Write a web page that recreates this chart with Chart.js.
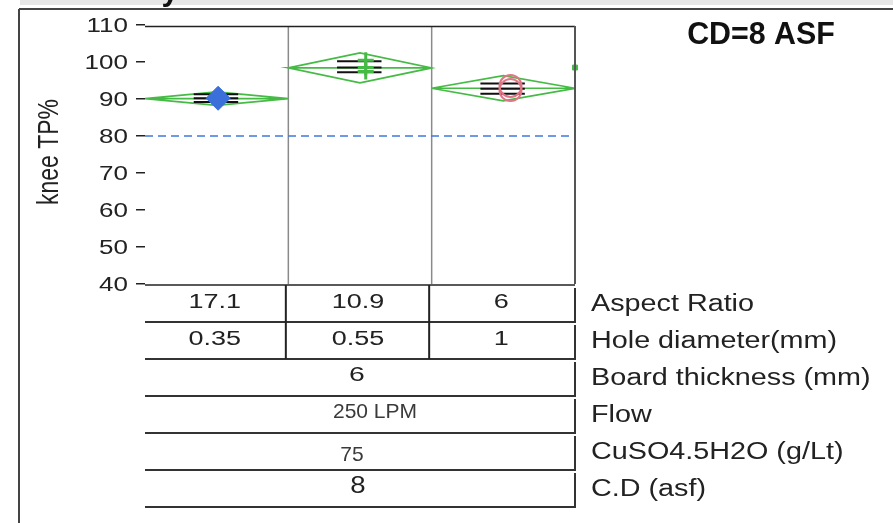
<!DOCTYPE html>
<html><head><meta charset="utf-8">
<script src="https://cdn.jsdelivr.net/npm/chart.js@4.4.0/dist/chart.umd.min.js"></script>
<style>html,body{margin:0;padding:0;background:#fff;overflow:hidden}#wrap{width:893px;height:523px;position:relative}</style>
</head><body><div id="wrap"><canvas id="c" width="893" height="523"></canvas></div>
<script>
// ---- data ----
const aspectRatio = ['17.1', '10.9', '6'];
const holeDiameter = ['0.35', '0.55', '1'];
const boardThickness = '6';
const flowRate = '250 LPM';
const cuso4 = '75';
const currentDensity = '8';
const rowLabels = ['Aspect Ratio', 'Hole diameter(mm)', 'Board thickness (mm)', 'Flow', 'CuSO4.5H2O (g/Lt)', 'C.D (asf)'];
const yTicks = [40, 50, 60, 70, 80, 90, 100, 110];
const meanTP = [90.1, 98.4, 92.9];
const diamondHalf = [1.8, 4.05, 3.4];
const pointsG1 = [90.2];
const pointsG2 = [100.5, 98.5, 97.4];
const pointsG3 = [93.5, 92.4];
const barLevels = [[91.3, 90.2, 89.2], [100.2, 98.5, 97.2], [94.2, 92.8, 91.4]];
const specLimit = 80;
const edgeMark = 98.5;
const chartTitle = 'CD=8 ASF';
const yTitle = 'knee TP%';

// ---- styles ----
const GREEN = '#45bb45';
const FONT = '"Liberation Sans", Arial, sans-serif';

const datasets = [];
// markers (drawn on top)
datasets.push({ data: pointsG1.map(v => ({ x: 0.51, y: v })), pointStyle: 'rectRot', pointRadius: 12,
  backgroundColor: '#3b6fd9', borderColor: '#3b6fd9', borderWidth: 1, order: 0 });
datasets.push({ data: pointsG2.map(v => ({ x: 1.54, y: v })), pointStyle: 'cross', pointRadius: 8,
  borderColor: GREEN, borderWidth: 3, order: 0 });
datasets.push({ data: pointsG3.map(v => ({ x: 2.55, y: v })), pointStyle: 'circle', pointRadius: 11,
  backgroundColor: 'rgba(0,0,0,0)', borderColor: '#e07585', borderWidth: 2, order: 0 });
datasets.push({ data: [{ x: 3, y: edgeMark }], pointStyle: 'rect', pointRadius: 3.5,
  backgroundColor: GREEN, borderColor: GREEN, borderWidth: 1, clip: false, order: 0 });
// black level lines
barLevels.forEach((lv, i) => lv.forEach(v => {
  datasets.push({ data: [{ x: i + 0.34, y: v }, { x: i + 0.65, y: v }], showLine: true,
    borderColor: '#111', borderWidth: 2, pointRadius: 0, order: 1 });
}));
// mean diamonds
meanTP.forEach((m, i) => {
  const h = diamondHalf[i];
  datasets.push({ data: [{ x: i, y: m }, { x: i + 0.5, y: m + h }, { x: i + 1, y: m }, { x: i + 0.5, y: m - h }, { x: i, y: m }, { x: i + 1, y: m }],
    showLine: true, borderColor: GREEN, borderWidth: 1.7, pointRadius: 0, tension: 0, order: 2 });
});
// spec line
datasets.push({ data: [{ x: 0, y: specLimit }, { x: 3, y: specLimit }], showLine: true,
  borderColor: '#3f78e0', borderWidth: 1.6, borderDash: [8, 5], pointRadius: 0, order: 3 });

function txt(ctx, s, x, y, font, color, align, sx, rot) {
  ctx.save();
  ctx.font = font; ctx.fillStyle = color; ctx.textBaseline = 'middle'; ctx.textAlign = align;
  ctx.translate(x, y);
  if (rot) { ctx.rotate(rot); ctx.scale(1, sx); } else { ctx.scale(sx, 1); }
  ctx.fillText(s, 0, 0);
  ctx.restore();
}
function line(ctx, x1, y1, x2, y2, color, w, dash) {
  ctx.save(); ctx.strokeStyle = color; ctx.lineWidth = w; if (dash) ctx.setLineDash(dash);
  ctx.beginPath(); ctx.moveTo(x1, y1); ctx.lineTo(x2, y2); ctx.stroke(); ctx.restore();
}

const decor = {
  id: 'decor',
  beforeDraw(chart) {
    const ctx = chart.ctx;
    ctx.save(); ctx.fillStyle = '#fff'; ctx.fillRect(0, 0, chart.width, chart.height); ctx.restore();
  },
  beforeDatasetsDraw(chart) {
    const ctx = chart.ctx, a = chart.chartArea, xs = chart.scales.x;
    [1, 2].forEach(k => line(ctx, xs.getPixelForValue(k), a.top + 1, xs.getPixelForValue(k), a.bottom, '#8a8a8a', 1.5));
  },
  afterDraw(chart) {
    const ctx = chart.ctx, a = chart.chartArea, xs = chart.scales.x, ys = chart.scales.y;
    // outer frame
    ctx.save(); ctx.fillStyle = '#e6e6e6'; ctx.fillRect(20, 0, chart.width - 20, 5); ctx.restore();
    line(ctx, 19, 9, chart.width, 9, '#444', 2);
    line(ctx, 19, 9, 19, chart.height, '#444', 2);
    txt(ctx, 'y', 170, -9, 'bold 31px ' + FONT, '#111', 'center', 1);
    // plot border
    line(ctx, a.left, a.top + 1.5, a.right, a.top + 1.5, '#222', 1.5);
    line(ctx, a.right, a.top + 1, a.right, a.bottom, '#555', 2);
    line(ctx, a.left, a.bottom + 1, a.right, a.bottom + 1, '#222', 1.5);
    // y tick labels
    yTicks.forEach(v => txt(ctx, String(v), 128, ys.getPixelForValue(v) + 1, '20px ' + FONT, '#222', 'right', 1.3));
    // y title
    txt(ctx, yTitle, 50, 152, '23px ' + FONT, '#222', 'center', 1.3, -Math.PI / 2);
    // chart title
    txt(ctx, chartTitle, 761, 35, 'bold 31px ' + FONT, '#111', 'center', 0.98);
    // table
    const rowH = 37, top0 = a.bottom + 1;
    const gc = [0.5, 1.5, 2.5].map(v => xs.getPixelForValue(v));
    const mid = xs.getPixelForValue(1.5);
    for (let k = 0; k < 6; k++) {
      const t = top0 + k * rowH, b = t + rowH;
      line(ctx, a.left, b, a.right, b, '#333', 2);
      line(ctx, a.right, t + 3, a.right, b + 1, '#333', 2);
      if (k < 2) {
        [1, 2].forEach(c => line(ctx, xs.getPixelForValue(c) - 2.5, t, xs.getPixelForValue(c) - 2.5, b, '#222', 2));
      }
      txt(ctx, rowLabels[k], 591, t + 19.5, '23px ' + FONT, '#222', 'left', 1.25);
    }
    const f20 = '20px ' + FONT;
    aspectRatio.forEach((s, i) => txt(ctx, s, gc[i] - 2, top0 + 17, f20, '#222', 'center', 1.35));
    holeDiameter.forEach((s, i) => txt(ctx, s, gc[i] - 2, top0 + rowH + 17, f20, '#222', 'center', 1.35));
    txt(ctx, boardThickness, mid - 3, top0 + 2 * rowH + 16, '21px ' + FONT, '#222', 'center', 1.35);
    txt(ctx, flowRate, mid + 15, top0 + 3 * rowH + 16, '21px ' + FONT, '#3a3a3a', 'center', 1);
    txt(ctx, cuso4, mid - 8, top0 + 4 * rowH + 22, '21px ' + FONT, '#3a3a3a', 'center', 1);
    txt(ctx, currentDensity, mid - 2, top0 + 5 * rowH + 17, '23px ' + FONT, '#222', 'center', 1.2);
  }
};

new Chart(document.getElementById('c'), {
  type: 'scatter',
  data: { datasets },
  options: {
    responsive: false, animation: false, devicePixelRatio: 1,
    layout: { padding: { left: 0, right: 318, top: 25, bottom: 239 } },
    plugins: { legend: { display: false }, tooltip: { enabled: false }, title: { display: false } },
    scales: {
      x: { type: 'linear', min: 0, max: 3, display: false },
      y: {
        type: 'linear', min: 40, max: 110,
        afterFit(s) { s.width = 145; },
        afterBuildTicks(s) { s.ticks = yTicks.map(v => ({ value: v })); },
        ticks: { color: 'rgba(0,0,0,0)', font: { size: 12 } },
        grid: { drawOnChartArea: false, drawTicks: true, tickLength: 9, color: '#222', lineWidth: 1.5, tickColor: '#222' },
        border: { display: false }
      }
    }
  },
  plugins: [decor]
});
</script>
</body></html>
